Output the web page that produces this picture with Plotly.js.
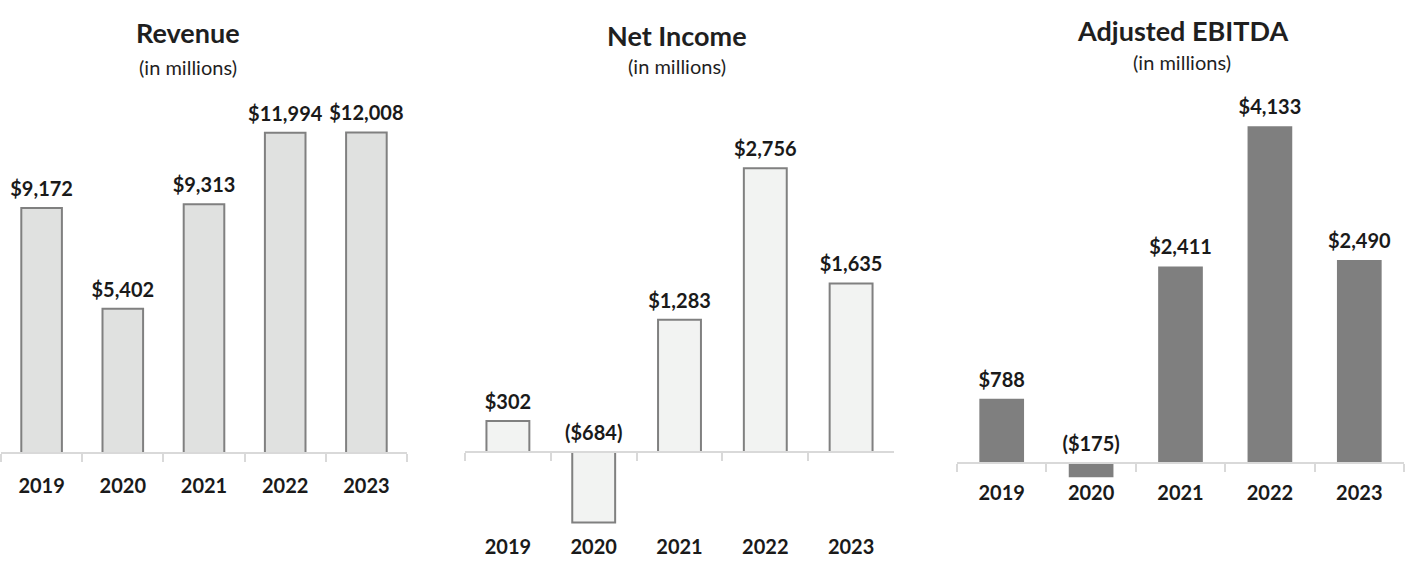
<!DOCTYPE html>
<html>
<head>
<meta charset="utf-8">
<script src="https://cdn.plot.ly/plotly-3.0.1.min.js"></script>
<style>html,body{margin:0;padding:0;background:#fff;}#chart{width:1408px;height:566px;}</style>
</head>
<body>
<div id="chart"></div>
<script>
// ---- data ----
const years = ["2019", "2020", "2021", "2022", "2023"];
const revenue = [9172, 5402, 9313, 11994, 12008];
const netIncome = [302, -684, 1283, 2756, 1635];
const adjEbitda = [788, -175, 2411, 4133, 2490];
const panelTitles = ["Revenue", "Net Income", "Adjusted EBITDA"];
const subTitle = "(in millions)";

// ---- layout helpers (pixel geometry) ----
const W = 1408, H = 566;
const FONT = "Lato, 'Open Sans', sans-serif";
function fmt(v) {
  const s = "$" + Math.abs(v).toLocaleString("en-US");
  return v < 0 ? "(" + s + ")" : s;
}
// panels: x pixel extent, zero pixel, px per unit, top pixel, bottom pixel, label standoff
const panels = [
  {vals: revenue, x0: 1, x1: 407, zero: 453, scale: 0.0267, top: 100, bottom: 453, standoff: 15,
   fill: "#e0e1e0", line: "#808080", lw: 2, tx: 188, ty: 33, sy: 67},
  {vals: netIncome, x0: 465, x1: 894, zero: 452, scale: 0.103, top: 100, bottom: 545, standoff: 77,
   fill: "#f2f3f2", line: "#808080", lw: 2, tx: 677, ty: 35, sy: 66},
  {vals: adjEbitda, x0: 957, x1: 1404, zero: 463, scale: 0.0815, top: 100, bottom: 500, standoff: 12,
   fill: "#7f7f7f", line: "#7f7f7f", lw: 0, tx: 1182, ty: 31, sy: 62}
];

const traces = [];
const layout = {
  width: W, height: H,
  margin: {l: 0, r: 0, t: 0, b: 0},
  paper_bgcolor: "#ffffff", plot_bgcolor: "rgba(0,0,0,0)",
  showlegend: false,
  bargap: 0.5,
  font: {family: FONT, color: "#1a1a1a"},
  annotations: []
};

panels.forEach((p, i) => {
  const n = i + 1;
  const xa = "x" + (n === 1 ? "" : n), ya = "y" + (n === 1 ? "" : n);
  const xk = "xaxis" + (n === 1 ? "" : n), yk = "yaxis" + (n === 1 ? "" : n);
  const ymax = (p.zero - p.top) / p.scale;
  const ymin = -(p.bottom - p.zero) / p.scale;
  const domY = [(H - p.bottom) / H, (H - p.top) / H];
  const zeroPos = (H - p.zero) / H;

  traces.push({
    type: "bar", x: years, y: p.vals, xaxis: xa, yaxis: ya,
    width: 0.5,
    marker: {color: p.fill, line: {color: p.line, width: p.lw}},
    hoverinfo: "skip"
  });
  traces.push({
    type: "scatter", mode: "markers+text", x: years, y: p.vals.map(v => Math.max(v, 0)),
    xaxis: xa, yaxis: ya,
    marker: {size: 10, opacity: 0, color: "#ffffff"},
    text: p.vals.map(fmt), textposition: "top center",
    textfont: {family: FONT, size: 20, color: "#1a1a1a", weight: "bold"},
    cliponaxis: false, hoverinfo: "skip"
  });

  layout[xk] = {
    type: "category", domain: [p.x0 / W, p.x1 / W], range: [-0.5, 4.5],
    anchor: "free", position: zeroPos,
    showline: true, linecolor: "#d9d9d9", linewidth: 2,
    ticks: "outside", tickson: "boundaries", ticklen: 8, tickwidth: 2, tickcolor: "#d9d9d9",
    showgrid: false, zeroline: false, fixedrange: true,
    ticklabelstandoff: p.standoff,
    tickfont: {family: FONT, size: 20, color: "#1a1a1a", weight: "bold"}
  };
  layout[yk] = {
    domain: domY, range: [ymin, ymax], anchor: xa,
    visible: false, showgrid: false, zeroline: false, fixedrange: true
  };

  layout.annotations.push({
    xref: "paper", yref: "paper", x: p.tx / W, y: (H - p.ty) / H,
    xanchor: "center", yanchor: "middle", showarrow: false,
    text: "<b>" + panelTitles[i] + "</b>",
    font: {family: FONT, size: 27, color: "#1f1f1f"}
  });
  layout.annotations.push({
    xref: "paper", yref: "paper", x: p.tx / W, y: (H - p.sy) / H,
    xanchor: "center", yanchor: "middle", showarrow: false,
    text: subTitle,
    font: {family: FONT, size: 20, color: "#1f1f1f"}
  });
});

Plotly.newPlot("chart", traces, layout, {displayModeBar: false, staticPlot: true});
</script>
</body>
</html>
